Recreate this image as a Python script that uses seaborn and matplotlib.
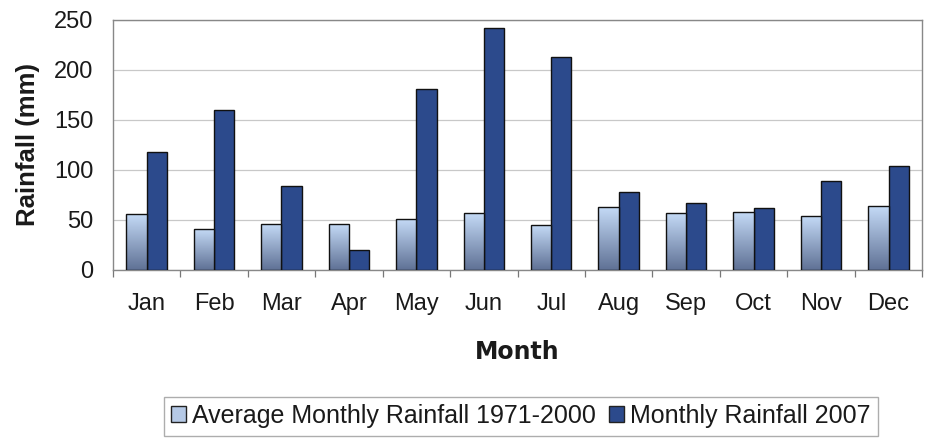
import numpy as np
import pandas as pd
import matplotlib
matplotlib.use('Agg')
import matplotlib.pyplot as plt
from matplotlib.colors import LinearSegmentedColormap
from matplotlib.patches import Patch
import seaborn as sns

# ==== DATA ====
months = ['Jan', 'Feb', 'Mar', 'Apr', 'May', 'Jun', 'Jul', 'Aug', 'Sep', 'Oct', 'Nov', 'Dec']
avg_1971_2000 = [56, 41, 46, 46, 51, 57, 45, 63, 57, 58, 54, 64]
rain_2007 = [118, 160, 84, 20, 181, 242, 213, 78, 67, 62, 89, 104]
series_names = ['Average Monthly Rainfall 1971-2000', 'Monthly Rainfall 2007']
y_ticks = [0, 50, 100, 150, 200, 250]

LIGHT_TOP = '#c6dcf8'
LIGHT_BOTTOM = '#5f7195'
DARK = '#2c4a8c'

df = pd.DataFrame({
    'Month': months * 2,
    'Rainfall': avg_1971_2000 + rain_2007,
    'Series': [series_names[0]] * len(months) + [series_names[1]] * len(months),
})

sns.set_theme(style='white')
plt.rcParams['font.family'] = ['Liberation Sans', 'DejaVu Sans']

fig = plt.figure(figsize=(9.25, 4.38), dpi=100)
ax = fig.add_axes([0.122, 0.384, 0.875, 0.571])

sns.barplot(data=df, x='Month', y='Rainfall', hue='Series', order=months,
            hue_order=series_names, palette=[LIGHT_TOP, DARK], saturation=1,
            width=0.6, edgecolor='#111111', linewidth=1.0, legend=False,
            ax=ax, zorder=3)

# vertical gradient on the light bars
cmap = LinearSegmentedColormap.from_list('lightbar', [LIGHT_BOTTOM, LIGHT_TOP])
grad = np.linspace(0, 1, 256).reshape(-1, 1)
n = len(months)
for patch in ax.patches[:n]:
    x0, y0 = patch.get_x(), patch.get_y()
    w, h = patch.get_width(), patch.get_height()
    im = ax.imshow(grad, cmap=cmap, origin='lower', aspect='auto',
                   extent=[x0, x0 + w, y0, y0 + h], zorder=3.5)
    im.set_clip_path(patch)
    patch.set_facecolor('none')
    patch.set_zorder(4)

ax.set_xlim(-0.5, n - 0.5)
ax.set_ylim(0, 250)
ax.set_yticks(y_ticks)
ax.yaxis.grid(True, color='#c8c8c8', linewidth=0.9, zorder=0)
ax.set_axisbelow(True)

ax.set_xticks(np.arange(-0.5, n, 1.0), minor=True)
ax.tick_params(axis='x', which='minor', direction='out', length=5, width=0.9,
               color='#777777', bottom=True)
ax.tick_params(axis='x', which='major', length=0, labelsize=17, pad=17)
ax.tick_params(axis='y', which='major', length=0, labelsize=17, pad=14)
for lbl in ax.get_xticklabels() + ax.get_yticklabels():
    lbl.set_color('#1a1a1a')

for side in ['top', 'right', 'left', 'bottom']:
    ax.spines[side].set_visible(True)
    ax.spines[side].set_color('#888888')
    ax.spines[side].set_linewidth(1.0)

ax.set_xlabel('Month', fontsize=17, fontweight='bold', labelpad=18,
              family=['DejaVu Sans'], color='#1a1a1a')
ax.set_ylabel('Rainfall (mm)', fontsize=18.5, fontweight='bold', labelpad=10,
              color='#1a1a1a')

handles = [Patch(facecolor='#b5c9e6', edgecolor='#222222', label=series_names[0]),
           Patch(facecolor=DARK, edgecolor='#222222', label=series_names[1])]
leg = fig.legend(handles=handles, loc='lower center', bbox_to_anchor=(0.563, 0.0),
                 ncol=2, fontsize=18, frameon=True, fancybox=False,
                 handlelength=0.6, handleheight=0.6, handletextpad=0.25,
                 columnspacing=0.5, borderpad=0.3, borderaxespad=0.1)
leg.get_frame().set_edgecolor('#999999')
leg.get_frame().set_linewidth(1.0)
for t in leg.get_texts():
    t.set_color('#1a1a1a')

fig.savefig('out.png', dpi=100)
